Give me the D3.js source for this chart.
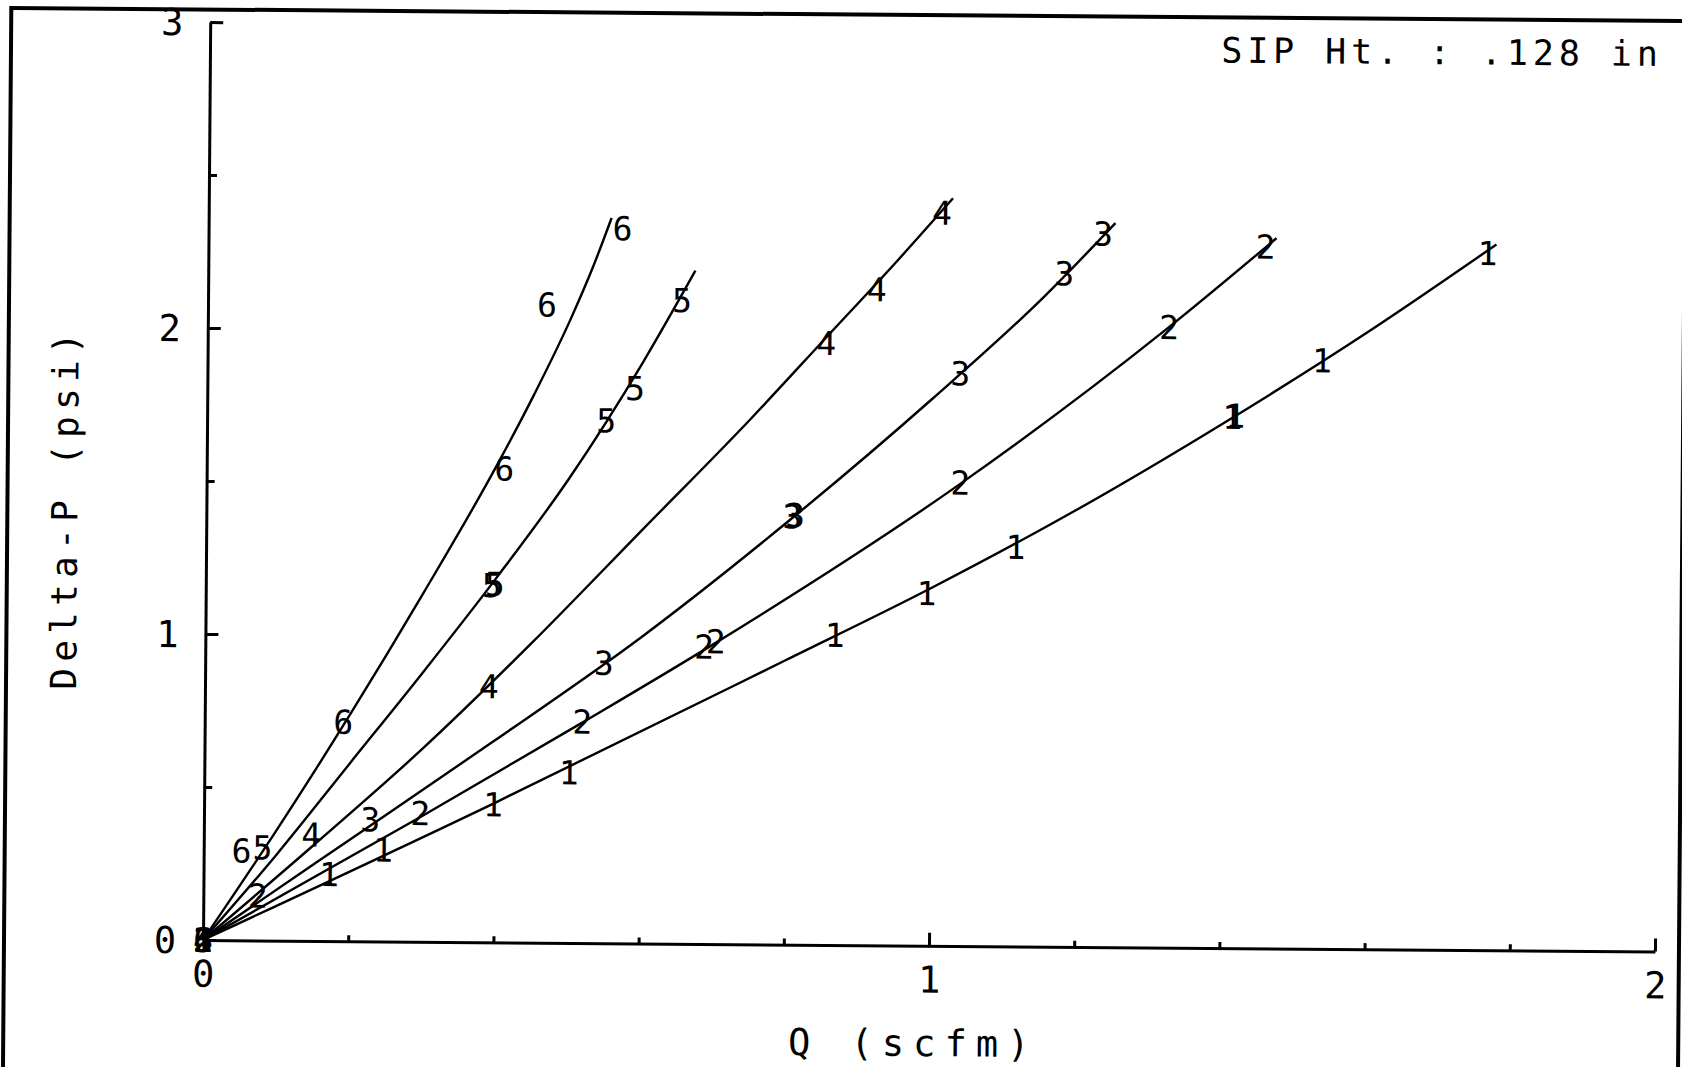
<!DOCTYPE html>
<html>
<head>
<meta charset="utf-8">
<script src="https://cdn.jsdelivr.net/npm/d3@7"></script>
<style>
  body { margin: 0; background: #fff; }
  svg { display: block; }
  text { font-family: "DejaVu Sans Mono", monospace; fill: #000; }
  .axis path, .axis line { stroke: #000; stroke-width: 3px; }
  .curve { fill: none; stroke: #000; stroke-width: 2.4px; }
</style>
</head>
<body>
<main></main>
<script>
var w = 1682;
var h = 1067;

// tick values
var xMajor = [0, 1, 2];
var xMinor = [0.2, 0.4, 0.6, 0.8, 1.2, 1.4, 1.6, 1.8];
var yMajor = [0, 1, 2, 3];
var yMinor = [0.5, 1.5, 2.5];

var title = "SIP Ht. : .128 in";
var xTitle = "Q (scfm)";
var yTitle = "Delta-P (psi)";

// plotted points (Q, delta-P), one list per run, label = run number
var pts1 = [[0, 0], [0.173, 0.218], [0.247, 0.300], [0.398, 0.450], [0.502, 0.557], [0.867, 1.013], [0.993, 1.152], [1.115, 1.305], [1.412, 1.736], [1.416, 1.740], [1.535, 1.923], [1.762, 2.277]];
var pts2 = [[0, 0], [0.075, 0.146], [0.298, 0.420], [0.520, 0.723], [0.687, 0.971], [0.703, 0.989], [1.038, 1.514], [1.324, 2.027], [1.456, 2.293]];
var pts3 = [[0, 0], [0.229, 0.398], [0.549, 0.916], [0.807, 1.399], [0.811, 1.403], [1.037, 1.871], [1.179, 2.200], [1.232, 2.331]];
var pts4 = [[0, 0], [0.148, 0.347], [0.391, 0.836], [0.852, 1.966], [0.921, 2.143], [1.010, 2.395]];
var pts5 = [[0, 0], [0.081, 0.304], [0.394, 1.167], [0.398, 1.171], [0.550, 1.708], [0.589, 1.814], [0.653, 2.103]];
var pts6 = [[0, 0], [0.052, 0.293], [0.191, 0.716], [0.410, 1.548], [0.467, 2.085], [0.570, 2.336]];

// fitted curves
var fit1 = [[0, 0], [0.4, 0.455], [0.8, 0.93], [1.0, 1.17], [1.2, 1.43], [1.4, 1.715], [1.6, 2.02], [1.774, 2.306]];
var fit2 = [[0, 0], [0.3, 0.41], [0.52, 0.72], [0.7, 0.98], [1.038, 1.51], [1.32, 2.02], [1.471, 2.321]];
var fit3 = [[0, 0], [0.2, 0.33], [0.4, 0.66], [0.6, 1.0], [0.8, 1.38], [1.0, 1.79], [1.15, 2.12], [1.249, 2.366]];
var fit4 = [[0, 0], [0.15, 0.31], [0.3, 0.63], [0.45, 0.98], [0.6, 1.35], [0.75, 1.72], [0.85, 1.98], [0.95, 2.24], [1.025, 2.443]];
var fit5 = [[0, 0], [0.1, 0.28], [0.2, 0.58], [0.3, 0.88], [0.4, 1.19], [0.5, 1.52], [0.6, 1.90], [0.671, 2.20]];
var fit6 = [[0, 0], [0.1, 0.36], [0.2, 0.74], [0.3, 1.14], [0.4, 1.56], [0.45, 1.79], [0.5, 2.04], [0.53, 2.21], [0.555, 2.37]];

var runs = [
  { label: "1", pts: pts1, fit: fit1 },
  { label: "2", pts: pts2, fit: fit2 },
  { label: "3", pts: pts3, fit: fit3 },
  { label: "4", pts: pts4, fit: fit4 },
  { label: "5", pts: pts5, fit: fit5 },
  { label: "6", pts: pts6, fit: fit6 }
];

var x0 = 203, y0 = 940;   // origin on the page

var svg = d3.select("main").append("svg").attr("width", w).attr("height", h);
svg.append("rect").attr("width", w).attr("height", h).attr("fill", "#fff");

// the scanned plot sits slightly turned
var g = svg.append("g").attr("transform", "rotate(0.45," + x0 + "," + y0 + ")");

// frame
g.append("rect")
  .attr("x", 4).attr("y", 9.5)
  .attr("width", 1675).attr("height", 1100)
  .attr("fill", "none").attr("stroke", "#000").attr("stroke-width", 4);

var xScale = d3.scaleLinear().domain([0, 2]).range([x0, x0 + 1452]);
var yScale = d3.scaleLinear().domain([0, 3]).range([y0, y0 - 918]);

// AXES
var xAxis = d3.axisBottom(xScale).tickValues(xMajor).tickSizeInner(-13).tickSizeOuter(0).tickPadding(34).tickFormat(d3.format("d"));
var xAxisMinor = d3.axisBottom(xScale).tickValues(xMinor).tickSizeInner(-6).tickSizeOuter(0).tickFormat("");
var yAxis = d3.axisLeft(yScale).tickValues(yMajor).tickSizeInner(-13).tickSizeOuter(0).tickPadding(38).tickFormat(d3.format("d"));
var yAxisMinor = d3.axisLeft(yScale).tickValues(yMinor).tickSizeInner(-8).tickSizeOuter(0).tickFormat("");

var gx = g.append("g").attr("class", "axis x").attr("transform", "translate(0," + y0 + ")").call(xAxis);
g.append("g").attr("class", "axis x minor").attr("transform", "translate(0," + y0 + ")").call(xAxisMinor)
  .select(".domain").remove();
var gy = g.append("g").attr("class", "axis y").attr("transform", "translate(" + x0 + ",0)").call(yAxis);
g.append("g").attr("class", "axis y minor").attr("transform", "translate(" + x0 + ",0)").call(yAxisMinor)
  .select(".domain").remove();

gx.selectAll("text").attr("dy", "0.35em").attr("font-size", 37).attr("font-family", null);
gy.selectAll("text").attr("dy", "0.35em").attr("text-anchor", "middle").attr("font-size", 37).attr("font-family", null);
g.selectAll(".axis.minor line").attr("stroke-width", 2.5);

// CURVES
var line = d3.line()
  .x(function (d) { return xScale(d[0]); })
  .y(function (d) { return yScale(d[1]); })
  .curve(d3.curveMonotoneX);

g.selectAll("path.curve")
  .data(runs)
  .enter()
  .append("path")
  .attr("class", "curve")
  .attr("d", function (d) { return line(d.fit); });

// POINT LABELS
runs.forEach(function (r) {
  g.selectAll(null)
    .data(r.pts)
    .enter()
    .append("text")
    .attr("x", function (d) { return xScale(d[0]); })
    .attr("y", function (d) { return yScale(d[1]); })
    .attr("dy", "0.36em")
    .attr("text-anchor", "middle")
    .attr("font-size", 33)
    .text(r.label);
});

// TITLES
g.append("text")
  .attr("x", 1435).attr("y", 42)
  .attr("dy", "0.36em")
  .attr("text-anchor", "middle")
  .attr("font-size", 35)
  .attr("letter-spacing", 4.9)
  .style("white-space", "pre")
  .text(title);

g.append("text")
  .attr("x", 914).attr("y", 1037)
  .attr("dy", "0.36em")
  .attr("text-anchor", "middle")
  .attr("font-size", 37)
  .attr("letter-spacing", 9)
  .style("white-space", "pre")
  .text(xTitle);

g.append("text")
  .attr("transform", "translate(61,509) rotate(-90)")
  .attr("dy", "0.36em")
  .attr("text-anchor", "middle")
  .attr("font-size", 36)
  .attr("letter-spacing", 6.3)
  .text(yTitle);
</script>
</body>
</html>
